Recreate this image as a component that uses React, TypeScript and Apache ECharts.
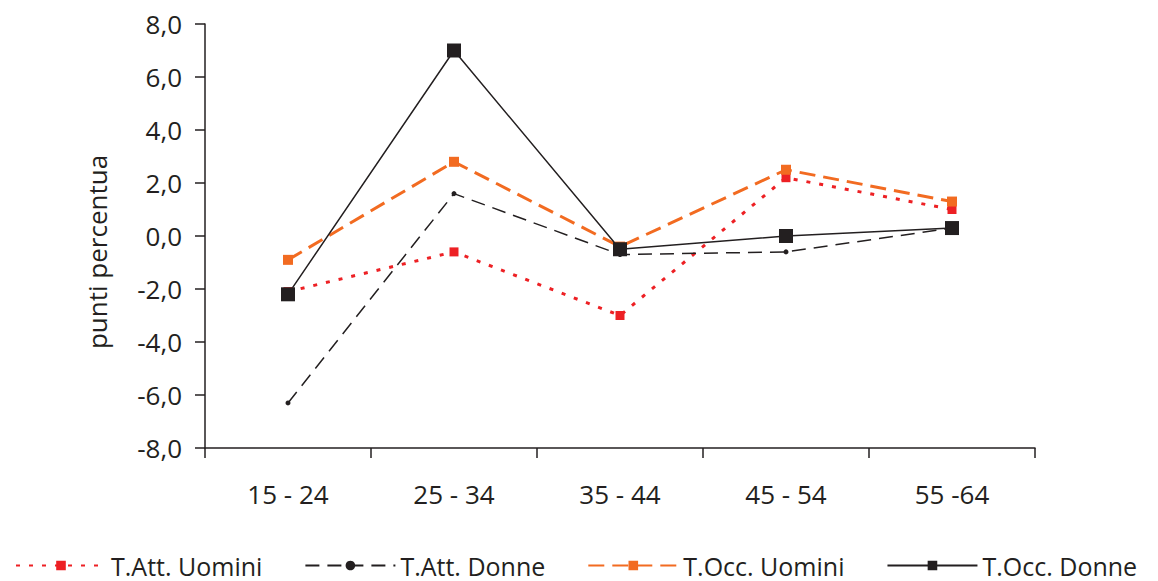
import React, { useEffect, useRef } from "react";
import * as echarts from "echarts";

const categories = ["15 - 24", "25 - 34", "35 - 44", "45 - 54", "55 -64"];
const attUomini = [-2.1, -0.6, -3.0, 2.2, 1.0];
const attDonne = [-6.3, 1.6, -0.7, -0.6, 0.3];
const occUomini = [-0.9, 2.8, -0.4, 2.5, 1.3];
const occDonne = [-2.2, 7.0, -0.5, 0.0, 0.3];
const seriesNames = ["T.Att. Uomini", "T.Att. Donne", "T.Occ. Uomini", "T.Occ. Donne"];

const FONT = "'Open Sans', sans-serif";
const TXT = "#231F20";

export default function App() {
  const ref = useRef<HTMLDivElement>(null);
  useEffect(() => {
    if (!ref.current) return;
    const chart = echarts.init(ref.current, undefined, { renderer: "svg" });
    chart.setOption({
      animation: false,
      grid: { left: 205, right: 123, top: 24, bottom: 133 },
      xAxis: {
        type: "category",
        data: categories,
        boundaryGap: true,
        axisLine: { onZero: false, lineStyle: { color: TXT, width: 1.5 } },
        axisTick: { show: true, length: 10, lineStyle: { color: TXT, width: 1.5 } },
        axisLabel: { fontFamily: FONT, fontSize: 26, color: TXT, margin: 33 },
        splitLine: { show: false },
      },
      yAxis: {
        type: "value",
        min: -8,
        max: 8,
        interval: 2,
        axisLine: { show: true, lineStyle: { color: TXT, width: 1.5 } },
        axisTick: { show: true, length: 10, lineStyle: { color: TXT, width: 1.5 } },
        axisLabel: {
          fontFamily: FONT,
          fontSize: 26,
          color: TXT,
          margin: 23,
          formatter: (v: number) => v.toFixed(1).replace(".", ","),
        },
        splitLine: { show: false },
      },
      graphic: [
        {
          type: "text",
          x: 97,
          y: 252,
          rotation: Math.PI / 2,
          style: {
            text: "punti percentua",
            fontFamily: FONT,
            fontSize: 26,
            fill: TXT,
            align: "center",
            verticalAlign: "middle",
          },
        },
      ],
      legend: {
        left: 15,
        top: 553,
        itemWidth: 90,
        itemHeight: 12,
        itemGap: 42,
        padding: 0,
        selectedMode: false,
        data: seriesNames,
        textStyle: { fontFamily: FONT, fontSize: 25, color: TXT },
      },
      series: [
        {
          name: seriesNames[0],
          type: "line",
          data: attUomini,
          symbol: "rect",
          symbolSize: 9,
          itemStyle: { color: "#ED2024" },
          lineStyle: { color: "#ED2024", width: 3, type: [4, 9] },
        },
        {
          name: seriesNames[1],
          type: "line",
          data: attDonne,
          symbol: "circle",
          symbolSize: 5,
          itemStyle: { color: TXT },
          lineStyle: { color: TXT, width: 1.5, type: [14, 8] },
        },
        {
          name: seriesNames[2],
          type: "line",
          data: occUomini,
          symbol: "rect",
          symbolSize: 10,
          itemStyle: { color: "#F26B21" },
          lineStyle: { color: "#F26B21", width: 3, type: [16, 8] },
        },
        {
          name: seriesNames[3],
          type: "line",
          data: occDonne,
          symbol: "rect",
          symbolSize: 14,
          itemStyle: { color: TXT },
          lineStyle: { color: TXT, width: 1.5 },
        },
      ],
    });
    return () => chart.dispose();
  }, []);
  return (
    <div
      ref={ref}
      style={{ position: "fixed", left: 0, top: 0, width: 1158, height: 581, background: "#fff" }}
    />
  );
}
